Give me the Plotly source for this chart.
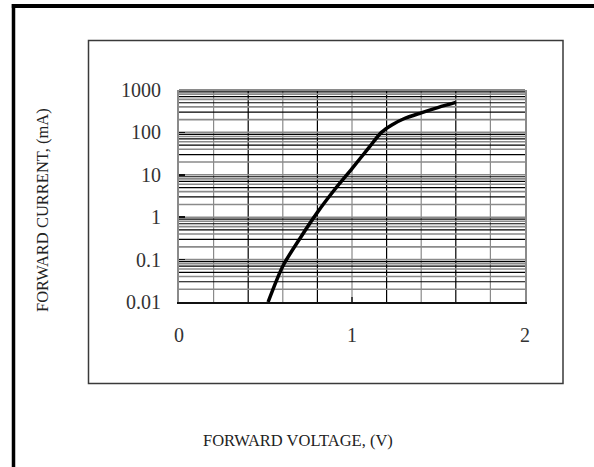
import plotly.graph_objects as go

# ---- data ----
voltage = [0.515, 0.60, 0.70, 0.80, 0.90, 1.00, 1.10, 1.17, 1.23, 1.30, 1.40, 1.50, 1.60]
current = [0.01, 0.07, 0.32, 1.3, 4.5, 14, 45, 100, 150, 210, 290, 390, 510]

x_ticks = [0, 1, 2]
x_tick_labels = ["0", "1", "2"]
y_ticks = [0.01, 0.1, 1, 10, 100, 1000]
y_tick_labels = ["0.01", "0.1", "1", "10", "100", "1000"]

x_grid_gray = [0.2, 0.6, 1.0, 1.4, 1.8]
x_grid_black = [0.4, 0.8, 1.2, 1.6]
decades = [0.01, 0.1, 1, 10, 100]
minor_gray_mult = [2, 4, 6, 8]
minor_black_mult = [3, 5, 7, 9]

W, H = 594, 467
L, R, T, B = 179, 69, 90, 165
PW, PH = W - L - R, H - T - B


def px_x(p):
    return (p - L) / PW


def px_y(p):
    return (H - B - p) / PH


def hlines(vals):
    xs, ys = [], []
    for v in vals:
        xs += [0, 2, None]
        ys += [v, v, None]
    return xs, ys


def vlines(vals):
    xs, ys = [], []
    for v in vals:
        xs += [v, v, None]
        ys += [0.01, 1000, None]
    return xs, ys


fig = go.Figure()

gx, gy = vlines(x_grid_gray)
fig.add_trace(go.Scatter(x=gx, y=gy, mode="lines", line=dict(color="#8a8a8a", width=1.2),
                         hoverinfo="skip", showlegend=False))
bx, by = vlines(x_grid_black)
fig.add_trace(go.Scatter(x=bx, y=by, mode="lines", line=dict(color="#000000", width=1.2),
                         hoverinfo="skip", showlegend=False))

hg = [d * m for d in decades for m in minor_gray_mult] + decades[1:]
hb = [d * m for d in decades for m in minor_black_mult]
hx, hy = hlines(hg)
fig.add_trace(go.Scatter(x=hx, y=hy, mode="lines", line=dict(color="#8a8a8a", width=1.6),
                         hoverinfo="skip", showlegend=False))
hx, hy = hlines(hb)
fig.add_trace(go.Scatter(x=hx, y=hy, mode="lines", line=dict(color="#000000", width=1.2),
                         hoverinfo="skip", showlegend=False))

fig.add_trace(go.Scatter(x=voltage, y=current, mode="lines",
                         line=dict(color="black", width=3.5, shape="spline", smoothing=0.8),
                         hoverinfo="skip", showlegend=False))

serif = "Liberation Serif, Times New Roman, serif"

fig.update_layout(
    width=W, height=H,
    margin=dict(l=L, r=R, t=T, b=B, pad=0),
    paper_bgcolor="white", plot_bgcolor="white",
    font=dict(family=serif, color="#222222"),
    xaxis=dict(range=[0, 2], tickvals=x_ticks, ticktext=x_tick_labels,
               showgrid=False, zeroline=False, fixedrange=True,
               showline=True, linecolor="#111111", linewidth=2,
               ticks="inside", ticklen=5, tickcolor="#444444", tickwidth=1.5,
               ticklabelstandoff=14,
               tickfont=dict(family=serif, size=20, color="#333333")),
    yaxis=dict(type="log", range=[-2, 3], tickvals=y_ticks, ticktext=y_tick_labels,
               showgrid=False, zeroline=False, fixedrange=True,
               showline=True, linecolor="#8a8a8a", linewidth=2, mirror=True,
               ticks="inside", ticklen=6, tickcolor="#111111", tickwidth=1.5,
               ticklabelstandoff=12,
               tickfont=dict(family=serif, size=20, color="#333333")),
    shapes=[
        dict(type="line", xref="paper", yref="paper", x0=0, x1=1, y0=1, y1=1,
             line=dict(color="#8a8a8a", width=2)),
        dict(type="rect", xref="paper", yref="paper",
             x0=px_x(88.5), x1=px_x(563), y0=px_y(383.5), y1=px_y(40.5),
             line=dict(color="#3a3a3a", width=1.5), layer="below"),
        # outer frame: left and top edges
        dict(type="line", xref="paper", yref="paper",
             x0=px_x(13.5), x1=px_x(13.5), y0=px_y(480), y1=px_y(4),
             line=dict(color="black", width=3.5)),
        dict(type="line", xref="paper", yref="paper",
             x0=px_x(11.8), x1=px_x(610), y0=px_y(6), y1=px_y(6),
             line=dict(color="black", width=4)),
    ],
    annotations=[
        dict(text="FORWARD VOLTAGE, (V)", xref="paper", yref="paper",
             x=px_x(298), y=px_y(440.7), xanchor="center", yanchor="middle",
             showarrow=False, font=dict(family=serif, size=16.5, color="#222222")),
        dict(text="FORWARD CURRENT, (mA)", xref="paper", yref="paper",
             x=px_x(42), y=px_y(210), xanchor="center", yanchor="middle",
             textangle=-90, showarrow=False,
             font=dict(family=serif, size=16.5, color="#222222")),
    ],
)

fig.write_html("out.html", config={"displayModeBar": False, "staticPlot": True},
               post_script="document.body.style.margin='0';document.body.style.overflow='hidden';")
